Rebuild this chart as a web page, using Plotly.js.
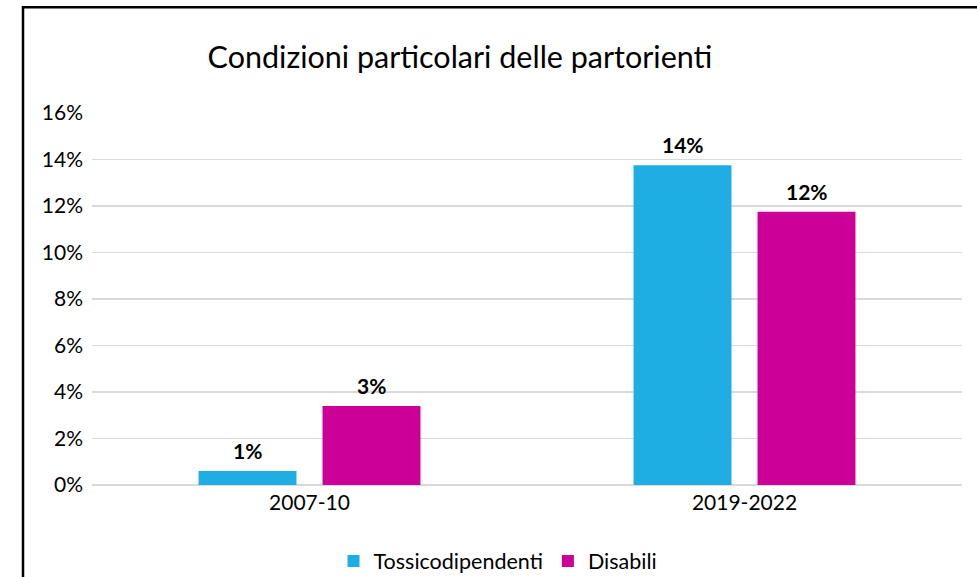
<!DOCTYPE html>
<html>
<head>
<meta charset="utf-8">
<script src="https://cdn.plot.ly/plotly-3.0.1.min.js"></script>
<style>html,body{margin:0;padding:0;background:#fff;}#chart{width:977px;height:577px;}</style>
</head>
<body>
<div id="chart"></div>
<script>
const categories = ["2007-10", "2019-2022"];
const seriesNames = ["Tossicodipendenti", "Disabili"];
const tossicodipendenti = [0.6, 13.75];
const disabili = [3.4, 11.75];
const yTickValues = [0, 2, 4, 6, 8, 10, 12, 14, 16];
const yTickLabels = ["0%", "2%", "4%", "6%", "8%", "10%", "12%", "14%", "16%"];
const colors = ["#1FAEE3", "#CC0099"];

const FONT = "Lato, 'Open Sans', sans-serif";
const series = [tossicodipendenti, disabili];

const traces = series.map((vals, i) => ({
  type: "bar",
  name: seriesNames[i],
  x: categories,
  y: vals,
  marker: {color: colors[i]},
  hoverinfo: "skip"
}));

const annotations = [];
series.forEach((vals, i) => {
  vals.forEach((v, j) => {
    annotations.push({
      x: categories[j], y: v, xref: "x", yref: "y",
      text: "<b>" + Math.round(v) + "%</b>",
      showarrow: false, yanchor: "bottom", yshift: 6,
      xshift: i === 0 ? -62 : 62,
      font: {family: FONT, size: 21, color: "#000"}
    });
  });
});

const layout = {
  width: 977, height: 577,
  margin: {l: 92, r: 15, t: 113, b: 91.5, pad: 0, autoexpand: false},
  paper_bgcolor: "#fff", plot_bgcolor: "#fff",
  font: {family: FONT, color: "#000"},
  title: {
    text: "Condizioni particolari delle partorienti",
    font: {family: FONT, size: 30.5, color: "#000"},
    xref: "container", yref: "container",
    x: 460 / 977, xanchor: "center",
    y: 1 - 57 / 577, yanchor: "middle"
  },
  barmode: "group",
  bargap: 0.43,
  bargroupgap: 0.21,
  xaxis: {
    type: "category",
    showline: false, showgrid: false, zeroline: false,
    ticks: "", tickfont: {family: FONT, size: 21, color: "#000"},
    ticklabelstandoff: 3
  },
  yaxis: {
    range: [0, 16],
    tickvals: yTickValues, ticktext: yTickLabels,
    showgrid: true, gridcolor: "#D9D9D9", gridwidth: 1.5,
    zeroline: true, zerolinecolor: "#D9D9D9", zerolinewidth: 1.5,
    showline: false, ticks: "",
    tickfont: {family: FONT, size: 21, color: "#000"},
    ticklabelstandoff: 8
  },
  showlegend: true,
  legend: {
    orientation: "h",
    xref: "container", yref: "container",
    x: 498 / 977, xanchor: "center",
    y: 1 - 561 / 577, yanchor: "middle",
    font: {family: FONT, size: 21.5, color: "#000"},
    itemwidth: 30, tracegroupgap: 0,
    bgcolor: "rgba(0,0,0,0)"
  },
  annotations: annotations,
  shapes: [{
    type: "rect", xref: "paper", yref: "paper",
    x0: (23 - 92) / 870, x1: 1.2,
    y0: -0.5, y1: (485.5 - 7) / 372.5,
    line: {color: "#000", width: 2.5}, fillcolor: "rgba(0,0,0,0)", layer: "above"
  }]
};

Plotly.newPlot("chart", traces, layout, {displayModeBar: false, staticPlot: true});
</script>
</body>
</html>
